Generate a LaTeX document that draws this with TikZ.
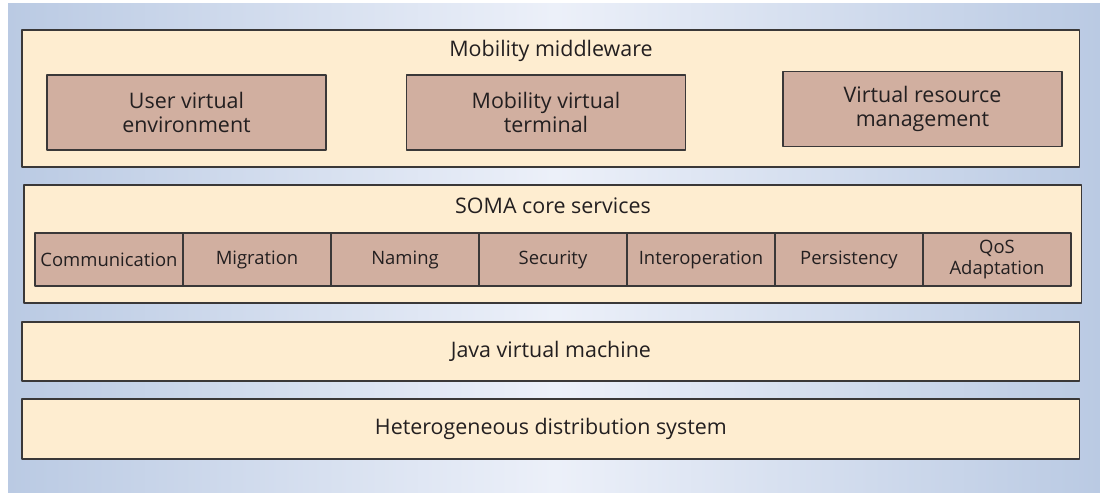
\documentclass[tikz,border=0pt]{standalone}
\usepackage{fontspec}
\setmainfont{Open Sans}
\usetikzlibrary{positioning}
\definecolor{bgside}{RGB}{186,202,227}
\definecolor{bgmid}{RGB}{236,240,249}
\definecolor{layerfill}{RGB}{254,237,208}
\definecolor{modfill}{RGB}{209,175,160}
\definecolor{edge}{RGB}{58,56,56}
\definecolor{ink}{RGB}{35,31,32}
\begin{document}
\begin{tikzpicture}[x=0.02cm,y=-0.02cm,line join=round,font=\fontsize{12.2}{13.8}\selectfont,text=ink,
	layer/.style={draw=edge,line width=0.8pt,fill=layerfill,anchor=north west,inner sep=0pt,outer sep=0pt,minimum width=21.16cm},
	module/.style={draw=edge,line width=0.8pt,fill=modfill,align=center,inner sep=0pt,outer sep=0pt,minimum width=5.58cm,minimum height=1.5cm},
	service/.style={module,minimum width=2.96cm,minimum height=1.06cm,font=\fontsize{10.5}{12.3}\selectfont}]
		\useasboundingbox (0,0) rectangle (1100,493);
		\shade[left color=bgside,right color=bgside,middle color=bgmid] (8,4) rectangle (1100,493);
		% mobility middleware layer
		\node[layer,minimum height=2.74cm] (mid) at (22,30) {};
		\node (midtitle) at (551,51) {Mobility middleware};
		\node[module] (uve) at (186.5,112.5) {User virtual\\environment};
		\node[module] (mvt) at (546,112.5) {Mobility virtual\\terminal};
		\node[module] (vrm) at (922.5,109) {Virtual resource\\management};
		% SOMA core services layer
		\node[layer,minimum height=2.36cm] (soma) at (24,185) {};
		\node (somatitle) at (553,206) {SOMA core services};
		\foreach \name/\txt [count=\i from 0] in {com/Communication,mig/Migration,nam/Naming,sec/Security,inter/Interoperation,per/Persistency,qos/{QoS\\Adaptation}}
			\node[service] (\name) at ({109+148*\i},259.5) {\txt};
		% lower layers
		\node[layer,minimum height=1.18cm] (jvm) at (22,322) {};
		\node (jvmtitle) at (jvm.center) {Java virtual machine};
		\node[layer,minimum height=1.2cm] (hds) at (22,399) {};
		\node (hdstitle) at (hds.center) {Heterogeneous distribution system};
\end{tikzpicture}
\end{document}
